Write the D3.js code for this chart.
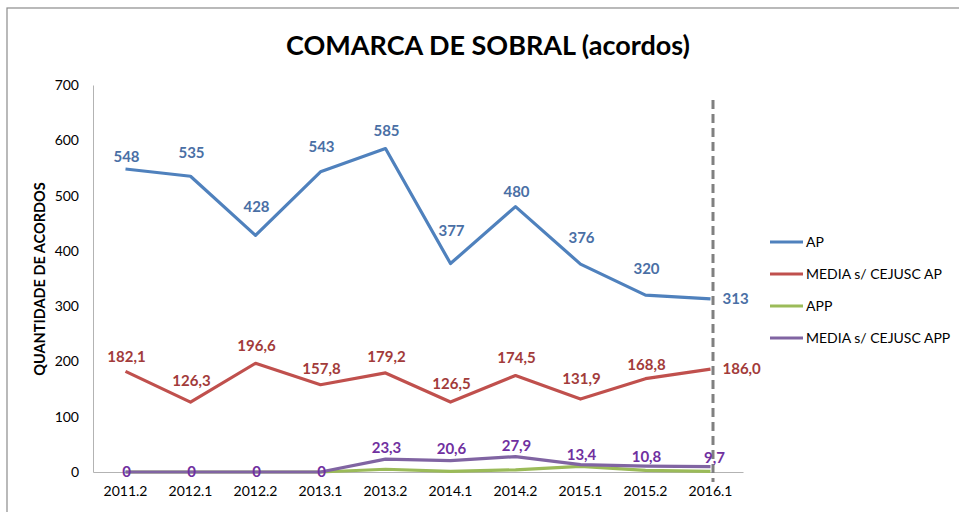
<!DOCTYPE html>
<html>
<head>
<meta charset="utf-8">
<script src="https://cdn.jsdelivr.net/npm/d3@7"></script>
<style>
  body { margin: 0; background: #fff; }
  text { font-family: Lato, "Open Sans", sans-serif; }
</style>
</head>
<body>
<svg id="chart" width="959" height="512"></svg>
<script>
var periods = ["2011.2","2012.1","2012.2","2013.1","2013.2","2014.1","2014.2","2015.1","2015.2","2016.1"];
var ap = [548, 535, 428, 543, 585, 377, 480, 376, 320, 313];
var mediaAp = [182.1, 126.3, 196.6, 157.8, 179.2, 126.5, 174.5, 131.9, 168.8, 186.0];
var app = [0, 0, 0, 0, 5, 1, 4, 10, 3, 1];
var mediaApp = [0, 0, 0, 0, 23.3, 20.6, 27.9, 13.4, 10.8, 9.7];
var yTicks = [0, 100, 200, 300, 400, 500, 600, 700];

// how far each data label sits above its point (as in the original, hand-placed)
var apLift = [12, 23, 28, 25, 18, 33, 15, 26, 26, 0];
var mediaApLift = [14, 21, 17, 16, 16, 18, 18, 20, 14, 0];
var mediaAppLift = [0, 0, 0, 0, 11, 12, 11, 10, 9, 9];

var svg = d3.select("#chart");
var m = {left: 93, right: 743, top: 85, bottom: 472};

// frame
svg.append("rect").attr("x", 7).attr("y", 8).attr("width", 960).attr("height", 520)
   .attr("fill", "none").attr("stroke", "#8c8c8c").attr("stroke-width", 1.2);

var x = d3.scaleBand().domain(periods).range([m.left, m.right]);
var y = d3.scaleLinear().domain([0, 700]).range([m.bottom, m.top]);
var cx = function(i) { return x(periods[i]) + x.bandwidth() / 2; };

svg.append("text").attr("x", 488).attr("y", 55).attr("text-anchor", "middle")
   .style("font-size", "27px").style("font-weight", "bold")
   .text("COMARCA DE SOBRAL (acordos)");

// axes
var yAxis = svg.append("g").attr("transform", "translate(" + m.left + ",0)")
   .call(d3.axisLeft(y).tickValues(yTicks).tickSize(0).tickPadding(14));
yAxis.select(".domain").attr("stroke", "#b3b3b3");
yAxis.selectAll("text").style("font-size", "14px").attr("fill", "#000");

var xAxis = svg.append("g").attr("transform", "translate(0," + m.bottom + ")")
   .call(d3.axisBottom(x).tickSize(0).tickPadding(14));
xAxis.select(".domain").attr("stroke", "#b3b3b3");
xAxis.selectAll("text").style("font-size", "14px").attr("fill", "#000");

svg.append("text").attr("transform", "translate(45,279) rotate(-90)")
   .attr("text-anchor", "middle").style("font-size", "14.5px").style("font-weight", "bold")
   .text("QUANTIDADE DE ACORDOS");

var line = d3.line().x(function(d, i) { return cx(i); }).y(function(d) { return y(d); });

var comma = function(v) { return v.toFixed(1).replace(".", ","); };
var series = [
  {name: "AP", data: ap, lift: apLift, color: "#4f81bd", label: "#4a6fa5", fmt: String, lastRight: true},
  {name: "MEDIA s/ CEJUSC AP", data: mediaAp, lift: mediaApLift, color: "#c0504d", label: "#a23b3a", fmt: comma, lastRight: true},
  {name: "APP", data: app, color: "#9bbb59", label: null},
  {name: "MEDIA s/ CEJUSC APP", data: mediaApp, lift: mediaAppLift, color: "#8064a2", label: "#7030a0",
   fmt: function(v) { return v === 0 ? "0" : comma(v); }, lastRight: false}
];

// drawing order: green under purple
[series[1], series[0], series[2], series[3]].forEach(function(s) {
  svg.append("path").datum(s.data).attr("d", line)
     .attr("fill", "none").attr("stroke", s.color).attr("stroke-width", 3.2)
     .attr("stroke-linejoin", "round");
});

// dashed marker line
svg.append("line").attr("x1", 713).attr("x2", 713).attr("y1", 100).attr("y2", 482)
   .attr("stroke", "#808080").attr("stroke-width", 3).attr("stroke-dasharray", "9,5");

// data labels
series.forEach(function(s) {
  if (!s.label) return;
  var last = s.data.length - 1;
  svg.append("g").selectAll("text").data(s.data).join("text")
     .attr("x", function(d, i) {
       if (i === last) return s.lastRight ? cx(i) + 12 : cx(i) + 4;
       return cx(i) + 1;
     })
     .attr("y", function(d, i) { return y(d) - s.lift[i] + 5; })
     .attr("text-anchor", function(d, i) { return (i === last && s.lastRight) ? "start" : "middle"; })
     .attr("fill", s.label).style("font-size", "15px").style("font-weight", "bold")
     .text(function(d) { return s.fmt(d); });
});

// legend
var legend = svg.append("g").selectAll("g").data(series).join("g")
   .attr("transform", function(d, i) { return "translate(770," + (242 + i * 32) + ")"; });
legend.append("line").attr("x1", 0).attr("x2", 33)
   .attr("stroke", function(d) { return d.color; }).attr("stroke-width", 3.2);
legend.append("text").attr("x", 36).attr("y", 5).style("font-size", "14px")
   .text(function(d) { return d.name; });
</script>
</body>
</html>
